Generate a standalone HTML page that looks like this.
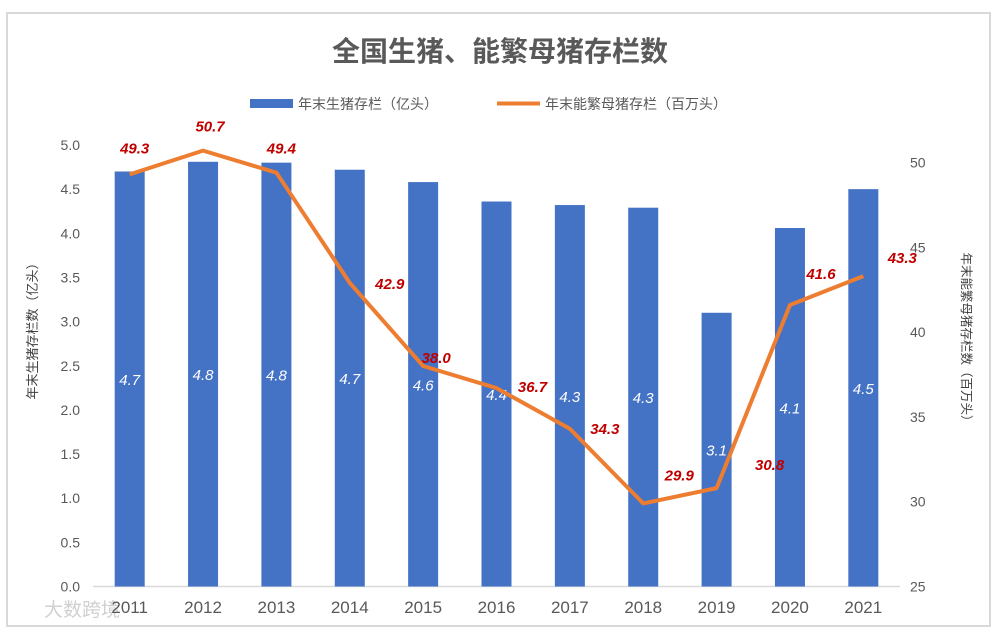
<!DOCTYPE html>
<html><head><meta charset="utf-8"><style>
body{margin:0;background:#fff;font-family:"Liberation Sans","Noto Sans CJK SC",sans-serif;}
svg text{font-family:"Liberation Sans","Noto Sans CJK SC",sans-serif;}
</style></head><body>
<svg id="c" width="1000" height="634">
<rect x="7" y="13" width="983" height="613" fill="#fff" stroke="#d9d9d9" stroke-width="2"/>
<text x="500" y="61" text-anchor="middle" font-size="28" font-weight="bold" fill="#595959">全国生猪、能繁母猪存栏数</text>
<g>
<rect x="250" y="99" width="43" height="9" fill="#4472c4"/>
<text x="298" y="109" font-size="14" fill="#595959">年末生猪存栏（亿头）</text>
<line x1="497" y1="103.5" x2="540" y2="103.5" stroke="#ed7d31" stroke-width="4"/>
<text x="545" y="109" font-size="14" fill="#595959">年末能繁母猪存栏（百万头）</text>
</g>
<text transform="translate(37,328) rotate(-90)" text-anchor="middle" font-size="13" fill="#404040">年末生猪存栏数（亿头）</text>
<text transform="translate(962,340) rotate(90)" text-anchor="middle" font-size="12.5" fill="#404040">年末能繁母猪存栏数（百万头）</text>
<text x="44" y="616" font-size="19" fill="#d0d0d0">大数跨境</text>
<g id="g"></g>
</svg>
<script>
const years=["2011","2012","2013","2014","2015","2016","2017","2018","2019","2020","2021"];
const hogs=[4.70,4.81,4.80,4.72,4.58,4.36,4.32,4.29,3.10,4.06,4.50];
const sows=[49.3,50.7,49.4,42.9,38.0,36.7,34.3,29.9,30.8,41.6,43.3];
const leftTicks=["0.0","0.5","1.0","1.5","2.0","2.5","3.0","3.5","4.0","4.5","5.0"];
const rightTicks=["25","30","35","40","45","50"];
const labelDx=[5,7,5,40,13,36,35,36,53,31,39];
const labelDy=[-27,-25,-25,0,-9,-2,-1,-29,-24,-32,-19];
const X0=93,X1=900,Y0=586.5,Y1=145;
const step=(X1-X0)/years.length;
const xc=i=>X0+step*(i+0.5);
const yl=v=>Y0-(v/5)*(Y0-Y1);
const yr=v=>Y0-((v-25)/5)*84.8;
const g=document.getElementById('g');
const NS='http://www.w3.org/2000/svg';
function mk(t,a,txt){const e=document.createElementNS(NS,t);for(const k in a)e.setAttribute(k,a[k]);if(txt!==undefined)e.textContent=txt;g.appendChild(e);return e;}
leftTicks.forEach(t=>{const e=mk('text',{x:80,y:yl(+t)+5,'text-anchor':'end','font-size':14,fill:'#595959'},t);

});
rightTicks.forEach(t=>{const e=mk('text',{x:910,y:yr(+t)+5,'font-size':14,fill:'#595959'},t);

});
const ax=mk('line',{x1:X0,x2:X1,y1:Y0,y2:Y0,stroke:'#d9d9d9','stroke-width':1.5});


years.forEach((y,i)=>{
const b=mk('rect',{x:xc(i)-15,y:yl(hogs[i]),width:30,height:Y0-yl(hogs[i]),fill:'#4472c4'});


const l=mk('text',{x:xc(i),y:(yl(hogs[i])+Y0)/2+6,'text-anchor':'middle','font-size':15,'font-style':'italic',fill:'#fff'},hogs[i].toFixed(1));


const t=mk('text',{x:xc(i),y:613,'text-anchor':'middle','font-size':17,fill:'#595959'},y);


});
const p=mk('polyline',{points:sows.map((v,i)=>xc(i)+','+yr(v)).join(' '),fill:'none',stroke:'#ed7d31','stroke-width':4,'stroke-linejoin':'round'});


sows.forEach((v,i)=>{
const l=mk('text',{x:xc(i)+labelDx[i],y:yr(v)+labelDy[i]+6,'text-anchor':'middle','font-size':15,'font-style':'italic','font-weight':'bold',fill:'#c00000'},v.toFixed(1));


});
</script>
</body></html>
